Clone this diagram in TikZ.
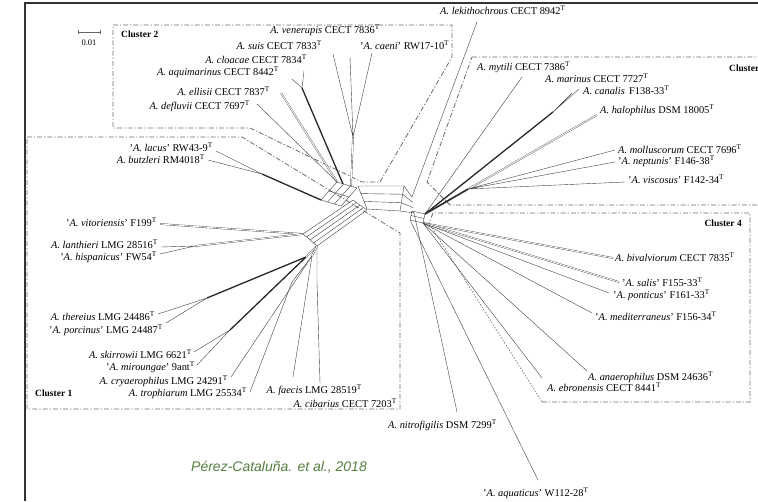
\documentclass[tikz,border=0pt]{standalone}
\usepackage{fontspec}
\setmainfont{Liberation Serif}
\newfontfamily\citefont{Liberation Sans}
\usetikzlibrary{calc}
\definecolor{citegreen}{rgb}{0.33,0.5,0.25}
\definecolor{boxgray}{rgb}{0.42,0.42,0.42}
\newcommand{\arco}[2]{\textit{A. #1} #2\textsuperscript{T}}
\newcommand{\arcoq}[2]{'\textit{A. #1}' #2\textsuperscript{T}}
\tikzset{
  taxon/.style={inner sep=0pt,font=\fontsize{10.4}{12}\selectfont},
  clname/.style={inner sep=0pt,font=\bfseries\fontsize{9.5}{11}\selectfont},
  clbox/.style={draw=boxgray,line width=0.8pt,dash pattern=on 5pt off 2pt on 1.2pt off 2pt},
  twig/.style={line width=0.4pt,draw=black!75},
  pair/.style={line width=0.35pt,draw=black!75,double=white,double distance=0.9pt},
  trunk/.style={line width=1.3pt,draw=black!85},
}

\begin{document}
\begin{tikzpicture}[x=1pt,y=-1pt]
\useasboundingbox (0,0) rectangle (758,501);
\clip (0,0) rectangle (758,501);
\draw[line width=2pt,black!80] (25,501) -- (25,3) -- (758,3);
\draw[line width=0.5pt,black!60] (78,30) -- (78,34) (78,32) -- (100,32) (100,30) -- (100,34);
\node[inner sep=0pt,font=\fontsize{8.5}{9}\selectfont] (scale) at (89,43) {0.01};

% cluster frames
\draw[clbox] (113,25) -- (452,25) -- (452,57) -- (380,182) -- (362,182) -- (250,128) -- (113,128) -- cycle;
\draw[clbox] (27,137) -- (242,137) -- (400,233) -- (400,409) -- (27,409) -- cycle;
\draw[clbox] (472,57) -- (770,57) -- (770,205) -- (450,205) -- (427,182) -- cycle;
\draw[clbox] (542,402) -- (750,402) -- (750,213) -- (433,213) -- (429,223);
\draw[boxgray,line width=0.6pt,dash pattern=on 1.5pt off 1.5pt] (429,223) -- (542,402);
\node[clname,anchor=west] (cl2) at (121,34) {Cluster 2};
\node[clname,anchor=west] (cl1) at (35,393) {Cluster 1};
\node[clname,anchor=west] (cl3) at (729,68) {Cluster 3};
\node[clname,anchor=east] (cl4) at (742,223) {Cluster 4};

% taxa
\node[taxon,anchor=east] (ven) at (380,30) {\arco{venerupis}{CECT 7836}};
\node[taxon,anchor=east] (suis) at (322,45) {\arco{suis}{CECT 7833}};
\node[taxon,anchor=west] (caen) at (360,45) {\arcoq{caeni}{RW17-10}};
\node[taxon,anchor=east] (cloa) at (307,59) {\arco{cloacae}{CECT 7834}};
\node[taxon,anchor=east] (aqui) at (279,72) {\arco{aquimarinus}{CECT 8442}};
\node[taxon,anchor=east] (elli) at (270,91) {\arco{ellisii}{CECT 7837}};
\node[taxon,anchor=east] (defl) at (250,106) {\arco{defluvii}{CECT 7697}};
\node[taxon,anchor=west] (lek) at (440,10) {\arco{lekithochrous}{CECT 8942}};
\node[taxon,anchor=west] (myt) at (477,67) {\arco{mytili}{CECT 7386}};
\node[taxon,anchor=west] (mar) at (545,78.5) {\arco{marinus}{CECT 7727}};
\node[taxon,anchor=west] (can) at (583,90) {\arco{canalis}{\,F138-33}};
\node[taxon,anchor=west] (hal) at (600,110) {\arco{halophilus}{DSM 18005}};
\node[taxon,anchor=west] (mol) at (618,149) {\arco{molluscorum}{CECT 7696}};
\node[taxon,anchor=west] (nep) at (618,161) {\arcoq{neptunis}{F146-38}};
\node[taxon,anchor=west] (vis) at (628,179) {\arcoq{viscosus}{F142-34}};
\node[taxon,anchor=west] (biv) at (615,257) {\arco{bivalviorum}{CECT 7835}};
\node[taxon,anchor=west] (sal) at (622,282) {\arcoq{salis}{F155-33}};
\node[taxon,anchor=west] (pon) at (613,295) {\arcoq{ponticus}{F161-33}};
\node[taxon,anchor=west] (med) at (595,316) {\arcoq{mediterraneus}{F156-34}};
\node[taxon,anchor=west] (ana) at (588,377) {\arco{anaerophilus}{DSM 24636}};
\node[taxon,anchor=west] (ebr) at (547,387) {\arco{ebronensis}{CECT 8441}};
\node[taxon,anchor=west] (nit) at (388,425) {\arco{nitrofigilis}{DSM 7299}};
\node[taxon,anchor=west] (aqua) at (483,493) {\arcoq{aquaticus}{W112-28}};
\node[taxon,anchor=east] (lac) at (213,147) {\arcoq{lacus}{RW43-9}};
\node[taxon,anchor=east] (butz) at (205,159) {\arco{butzleri}{RM4018}};
\node[taxon,anchor=east] (vit) at (157,222) {\arcoq{vitoriensis}{F199}};
\node[taxon,anchor=east] (lan) at (158,244) {\arco{lanthieri}{LMG 28516}};
\node[taxon,anchor=east] (his) at (157,257) {\arcoq{hispanicus}{FW54}};
\node[taxon,anchor=east] (ther) at (155,316) {\arco{thereius}{LMG 24486}};
\node[taxon,anchor=east] (porc) at (163,330) {\arcoq{porcinus}{LMG 24487}};
\node[taxon,anchor=east] (skir) at (192,354) {\arco{skirrowii}{LMG 6621}};
\node[taxon,anchor=east] (mir) at (195,367) {\arcoq{miroungae}{9ant}};
\node[taxon,anchor=east] (crya) at (228,381) {\arco{cryaerophilus}{LMG 24291}};
\node[taxon,anchor=east] (trop) at (247,393) {\arco{trophiarum}{LMG 25534}};
\node[taxon,anchor=east] (faec) at (362,390) {\arco{faecis}{LMG 28519}};
\node[taxon,anchor=east] (cib) at (397,403) {\arco{cibarius}{CECT 7203}};
\node[inner sep=0pt,anchor=west,text=citegreen,font=\citefont\itshape\fontsize{14}{16}\selectfont] (cite) at (191,467) {Pérez-Cataluña. et al., 2018};

% network core
\coordinate (hL) at (317,246);
\coordinate (jA) at (303,234);
\coordinate (bC) at (353,200);
\coordinate (bD) at (367,210);
\coordinate (p1) at (321,200);
\coordinate (p2) at (337,182);
\coordinate (p3) at (357,188);
\coordinate (p4) at (341,206);
\coordinate (ct1) at (358,186);
\coordinate (ct2) at (404,186);
\coordinate (ct3) at (412,197);
\coordinate (cb1) at (367,209);
\coordinate (cb2) at (400,211);
\coordinate (cb3) at (414,213);
\coordinate (rh1) at (412,211);
\coordinate (rh2) at (425,214);
\coordinate (rh3) at (423,223);
\coordinate (rh4) at (410,220);
\foreach \t in {0,0.25,0.5,0.75,1}
  \draw[twig] ($(jA)!\t!(hL)$) -- ($(bC)!\t!(bD)$);
\draw[twig] (jA) -- (hL) (bC) -- (bD);
\foreach \t in {0,0.33,0.67,1}
  \draw[twig] ($(p1)!\t!(p4)$) -- ($(p2)!\t!(p3)$);
\foreach \t in {0,0.5,1}
  \draw[twig] ($(p1)!\t!(p2)$) -- ($(p4)!\t!(p3)$);
\foreach \t in {0,0.33,0.67,1}
  \draw[twig] ($(ct1)!\t!(cb1)$) -- ($(ct2)!\t!(cb2)$) -- ($(ct3)!\t!(cb3)$);
\draw[twig] (ct1) -- (cb1) (ct2) -- (cb2) (cb3) -- (rh1);
\foreach \t in {0,0.5,1}
  \draw[twig] ($(rh1)!\t!(rh4)$) -- ($(rh2)!\t!(rh3)$);
\draw[twig] (rh1) -- (rh4) (rh2) -- (rh3);

% cluster 2 branches
\coordinate (jVe) at (353,137);
\coordinate (jCl) at (302,88);
\coordinate (gA) at (343,184);
\coordinate (gB) at (351,186);
\draw[twig] (333,54) -- (jVe) (350,57) -- (jVe) (372,53) -- (jVe);
\draw[pair] (jVe) -- (gB);
\draw[twig] (304,71) -- (jCl) (292,79) -- (jCl);
\draw[trunk] (jCl) -- (gA);
\draw[pair] (281,93) -- (p2);
\draw[twig] (257,104) -- (p2);

% cluster 1 branches
\coordinate (jLac) at (262,174);
\coordinate (jLan) at (195,246);
\coordinate (jTh) at (207,298);
\coordinate (jSk) at (230,330);
\coordinate (k1) at (306,257);
\coordinate (k2) at (312,256);
\draw[twig] (216,151) -- (jLac) (208,160) -- (jLac);
\draw[trunk] (jLac) -- (p1);
\draw[pair] (160,224) -- (jA);
\draw[twig] (161,247) -- (jLan) (160,254) -- (jLan);
\draw[pair] (jLan) -- (jA);
\draw[twig] (158,314) -- (jTh) (166,323) -- (jTh);
\draw[trunk] (jTh) -- (k1);
\draw[twig] (194,352) -- (jSk) (197,365) -- (jSk);
\draw[trunk] (jSk) -- (k1);
\draw[pair] (k1) -- (hL);
\draw[twig] (231,377) -- (k2);
\draw[twig] (250,392) -- (292,282) -- (k2);
\draw[twig] (293,377) -- (308,282) -- (k2);
\draw[twig] (320,383) -- (317,282) -- (hL);
\draw[pair] (k2) -- (hL);

% cluster 3 branches
\coordinate (jMar) at (553,112);
\coordinate (jMol) at (468,189);
\draw[twig] (ct3) -- (477,22);
\draw[twig] (rh2) -- (522,77);
\draw[trunk] (rh2) -- (jMar);
\draw[twig] (jMar) -- (572,93) (jMar) -- (579,89);
\draw[pair] (rh2) -- (597,115);
\draw[trunk] (rh2) -- (jMol);
\draw[twig] (jMol) -- (615,150) (jMol) -- (615,162) (jMol) -- (625,182);

% cluster 4 branches
\draw[pair] (rh3) -- (613,258);
\draw[pair] (rh3) -- (619,282);
\draw[twig] (rh3) -- (609,293);
\draw[twig] (rh3) -- (592,313);
\draw[twig] (rh3) -- (587,371);
\draw[twig] (rh3) -- (542,378);
\draw[twig] (cb3) -- (457,412);
\draw[twig] (rh4) -- (538,480);
\end{tikzpicture}
\end{document}
